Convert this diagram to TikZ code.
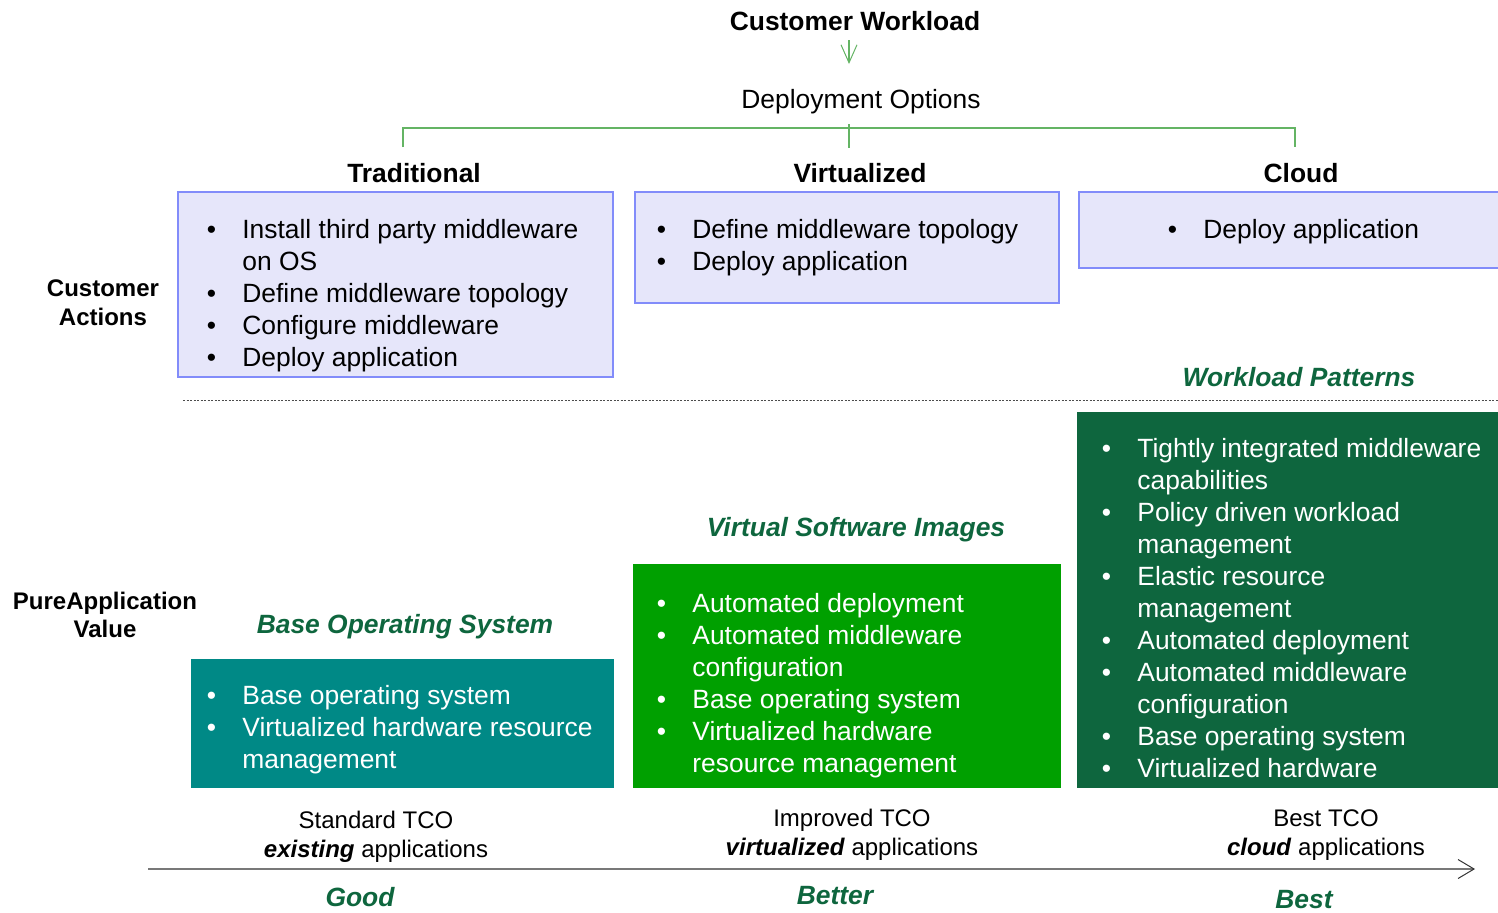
\documentclass[tikz,border=0pt]{standalone}
\usepackage{fontspec}
\setmainfont{Liberation Sans}
\usetikzlibrary{arrows.meta}
\definecolor{lav}{RGB}{230,230,250}
\definecolor{lavline}{RGB}{130,140,250}
\definecolor{dkgreen}{RGB}{14,102,62}
\definecolor{brgreen}{RGB}{0,160,0}
\definecolor{tealbox}{RGB}{0,137,134}
\definecolor{lnkgreen}{RGB}{100,180,100}
\definecolor{axisgray}{RGB}{120,120,120}
\newcommand\bodyfont{\fontsize{13.2pt}{16pt}\selectfont}
\newcommand\lblfont{\fontsize{12pt}{14.5pt}\selectfont}
\tikzset{
  txt/.style={anchor=base, inner sep=0pt, font=\bodyfont},
  head/.style={anchor=base, inner sep=0pt, font=\bodyfont\bfseries},
  side/.style={anchor=base, inner sep=0pt, font=\lblfont\bfseries},
  cat/.style={anchor=base, inner sep=0pt, font=\bodyfont\bfseries\itshape, text=dkgreen},
  tco/.style={anchor=base, inner sep=0pt, font=\lblfont},
  lavbox/.style={draw=lavline, fill=lav, line width=1pt},
  listline/.style={anchor=base west, inner sep=0pt, font=\bodyfont, yshift=0.5pt},
  link/.style={draw=lnkgreen, line width=0.6pt},
}
\newcommand\bl[4][black]{\node[listline, text=#1] at (#2,#3) {\llap{\makebox[31pt][c]{\textbullet}}#4};}
\newcommand\cl[4][black]{\node[listline, text=#1] at (#2,#3) {#4};}
\begin{document}
\begin{tikzpicture}[x=0.5pt,y=-0.5pt]
\useasboundingbox (0,0) rectangle (1498,912);
\clip (0,0) rectangle (1498,912);
\fill[white] (0,0) rectangle (1498,912);

% top
\node[head] (cw) at (855,30.5) {Customer Workload};
\coordinate (a1) at (849,40);
\coordinate (a2) at (849,64);
\draw[link, -{Straight Barb[length=9pt,width=8pt,line width=0.5pt]}] (a1) -- (a2);
\node[txt] (dep) at (861,108) {Deployment Options};

% bracket
\coordinate (bl) at (403,147);
\coordinate (br) at (1295,147);
\coordinate (bc1) at (849,124);
\coordinate (bc2) at (849,148);
\draw[link] (bl) -- (403,128) -- (1295,128) -- (br);
\draw[link] (bc1) -- (bc2);

% headings
\node[head] (trad) at (414,182.5) {Traditional};
\node[head] (virt) at (860,182.5) {Virtualized};
\node[head] (cloud) at (1301,182.5) {Cloud};

% customer action boxes
\draw[lavbox] (178,192) rectangle (613,377);
\draw[lavbox] (635,192) rectangle (1059,303);
\draw[lavbox] (1079,192) rectangle (1520,268);

\bl{242}{239}{Install third party middleware}
\cl{242}{271}{on OS}
\bl{242}{303}{Define middleware topology}
\bl{242}{335}{Configure middleware}
\bl{242}{367}{Deploy application}

\bl{692}{239}{Define middleware topology}
\bl{692}{271}{Deploy application}

\bl{1203}{239}{Deploy application}

\node[side] (ca1) at (103,296) {Customer};
\node[side] (ca2) at (103,325.5) {Actions};

% separator
\node[cat] (wp) at (1299,386) {Workload Patterns};
\draw[gray!60!black, line width=0.5pt, dash pattern=on 1pt off 0.75pt] (183,400) -- (1498,400);

% value boxes
\fill[dkgreen] (1077,412) rectangle (1520,788);
\bl[white]{1137}{458}{Tightly integrated middleware}
\cl[white]{1137}{490}{capabilities}
\bl[white]{1137}{522}{Policy driven workload}
\cl[white]{1137}{554}{management}
\bl[white]{1137}{586}{Elastic resource}
\cl[white]{1137}{618}{management}
\bl[white]{1137}{650}{Automated deployment}
\bl[white]{1137}{682}{Automated middleware}
\cl[white]{1137}{714}{configuration}
\bl[white]{1137}{746}{Base operating system}
\bl[white]{1137}{778}{Virtualized hardware}

\node[cat] (vsi) at (856,536) {Virtual Software Images};
\fill[brgreen] (633,564) rectangle (1061,788);
\bl[white]{692}{613}{Automated deployment}
\bl[white]{692}{645}{Automated middleware}
\cl[white]{692}{677}{configuration}
\bl[white]{692}{709}{Base operating system}
\bl[white]{692}{741}{Virtualized hardware}
\cl[white]{692}{773}{resource management}

\node[cat] (bos) at (405,633) {Base Operating System};
\fill[tealbox] (191,659) rectangle (614,788);
\bl[white]{242}{705}{Base operating system}
\bl[white]{242}{737}{Virtualized hardware resource}
\cl[white]{242}{769}{management}

\node[side] (pv1) at (105,609) {PureApplication};
\node[side] (pv2) at (105,637) {Value};

% TCO labels
\node[tco] (t1a) at (376,828) {Standard TCO};
\node[tco] (t1b) at (376,857) {\textbf{\textit{existing}} applications};
\node[tco] (t2a) at (852,826) {Improved TCO};
\node[tco] (t2b) at (852,855) {\textbf{\textit{virtualized}} applications};
\node[tco] (t3a) at (1326,826) {Best TCO};
\node[tco] (t3b) at (1326,855) {\textbf{\textit{cloud}} applications};

% axis
\coordinate (ax0) at (148,869);
\coordinate (ax1) at (1475,869);
\draw[axisgray, line width=0.7pt, -{Straight Barb[length=8pt,width=9.5pt,line width=0.5pt,color=black!80]}] (ax0) -- (ax1);

\node[cat] (good) at (360,906) {Good};
\node[cat] (better) at (835,904) {Better};
\node[cat] (best) at (1304,908) {Best};
\end{tikzpicture}
\end{document}
